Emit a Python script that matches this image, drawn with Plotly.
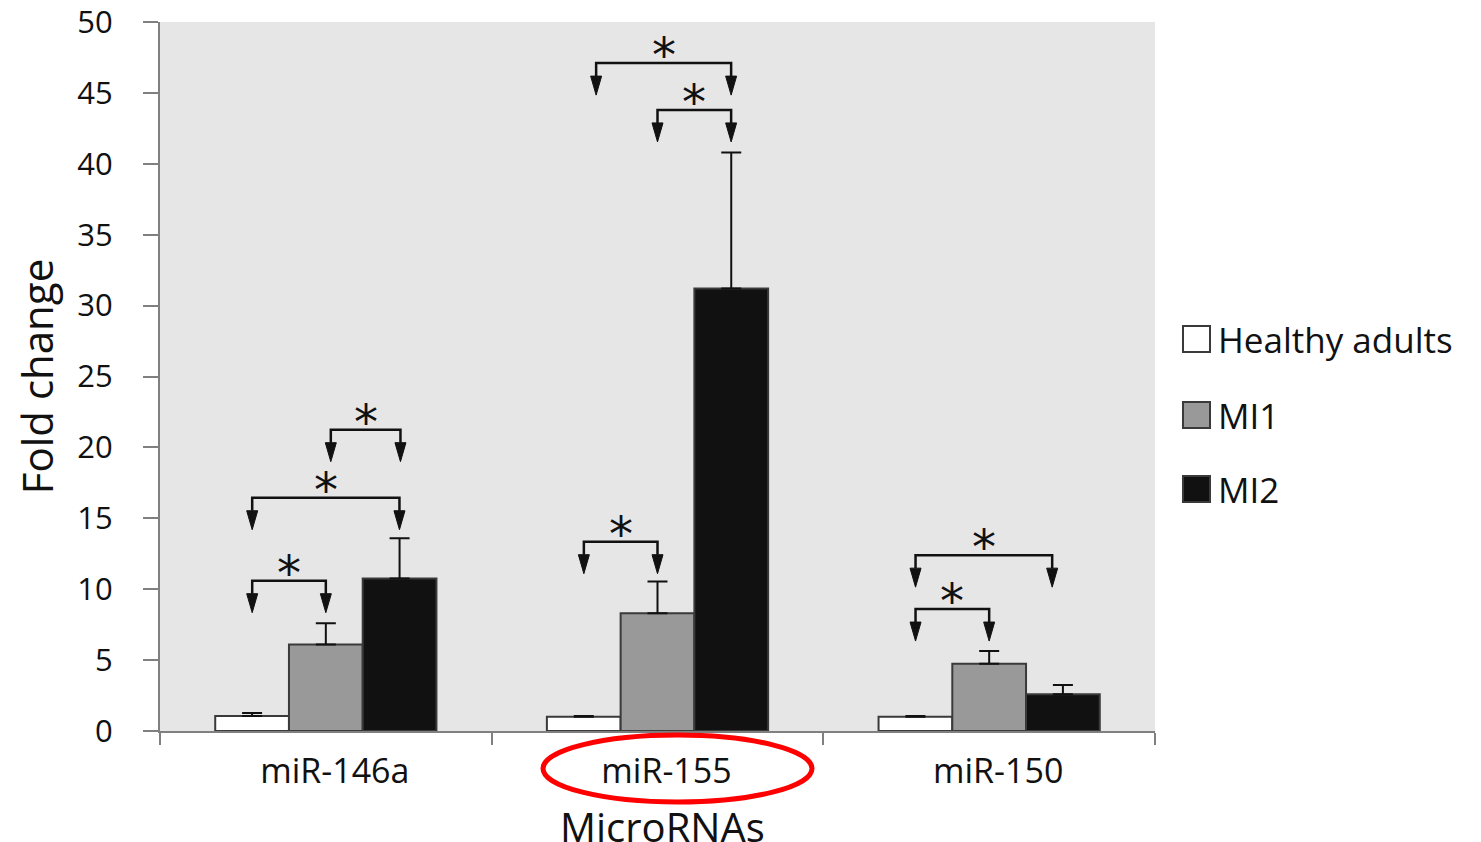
import plotly.graph_objects as go

categories = ["miR-146a", "miR-155", "miR-150"]
series_names = ["Healthy adults", "MI1", "MI2"]
healthy = [1.05, 1.0, 1.0]
mi1 = [6.1, 8.3, 4.75]
mi2 = [10.75, 31.2, 2.6]
healthy_err = [0.22, 0.05, 0.05]
mi1_err = [1.5, 2.25, 0.9]
mi2_err = [2.85, 9.6, 0.65]

# significance brackets: left x, right x (category units), bracket height (fold change)
bracket_x0 = [-0.222, -0.222, 0.015, 0.778, 0.815, 1.0, 1.778, 1.778]
bracket_x1 = [0.0, 0.222, 0.225, 1.0, 1.222, 1.222, 2.0, 2.19]
bracket_y = [10.6, 16.45, 21.25, 13.35, 47.1, 43.8, 8.6, 12.4]

fills = ["#ffffff", "#999999", "#111111"]
values = [healthy, mi1, mi2]
errs = [healthy_err, mi1_err, mi2_err]

FONT = "Open Sans"
OFF = 8  # page body margin
W, H = 1481 - OFF, 842 - OFF
PL, PR, PT, PB = 160, 1155, 22, 731   # plot area in page pixels
ML, MT = PL - OFF, PT - OFF
MR = W - (PR - OFF)
MB = H - (PB - OFF)
pw = PR - PL
ph = PB - PT
xu = 3.0 / pw      # x units per pixel
yu = 50.0 / ph     # y units per pixel


def px_x(p):
    return (p - PL) / pw


def px_y(p):
    return (PB - p) / ph


fig = go.Figure()
for name, col, v, e in zip(series_names, fills, values, errs):
    fig.add_trace(go.Bar(
        x=list(range(len(categories))), y=v, name=name,
        marker=dict(color=col, line=dict(color="#3a3a3a", width=2)),
        error_y=dict(type="data", array=e, arrayminus=[0] * len(e), symmetric=False,
                     color="#111111", thickness=2, width=10),
        showlegend=False,
    ))

shapes = []
annotations = []
stem = 13 * yu
head = 19 * yu
hw = 5.5 * xu
for x0, x1, yb in zip(bracket_x0, bracket_x1, bracket_y):
    ytip = yb - stem - head
    ybase = ytip + head
    shapes.append(dict(type="path", xref="x", yref="y",
                       path=f"M{x0},{ybase} L{x0},{yb} L{x1},{yb} L{x1},{ybase}",
                       line=dict(color="#111111", width=2.5)))
    for xx in (x0, x1):
        shapes.append(dict(type="path", xref="x", yref="y",
                           path=f"M{xx-hw},{ybase} L{xx+hw},{ybase} L{xx},{ytip} Z",
                           fillcolor="#111111", line=dict(color="#111111", width=1)))
    annotations.append(dict(x=(x0 + x1) / 2, y=yb, xref="x", yref="y", text="*",
                            showarrow=False, yanchor="bottom", yshift=-22,
                            font=dict(family="DejaVu Sans", size=48, color="#111111")))

# legend (drawn manually to match the large swatches)
leg_y = [339, 415, 489]
for name, col, cy in zip(series_names, fills, leg_y):
    shapes.append(dict(type="rect", xref="paper", yref="paper",
                       x0=px_x(1183), x1=px_x(1210), y0=px_y(cy + 13), y1=px_y(cy - 13),
                       fillcolor=col, line=dict(color="#3a3a3a", width=2)))
    annotations.append(dict(x=px_x(1216), y=px_y(cy), xref="paper", yref="paper",
                            text=name, showarrow=False, xanchor="left", yanchor="middle",
                            font=dict(family=FONT, size=35, color="#111111")))

# x-axis title
annotations.append(dict(x=px_x(662), y=px_y(826), xref="paper", yref="paper",
                        text="MicroRNAs", showarrow=False, xanchor="center", yanchor="middle",
                        font=dict(family=FONT, size=40, color="#111111")))

# red hand-drawn highlight around the miR-155 label
shapes.append(dict(type="circle", xref="paper", yref="paper",
                   x0=px_x(543), x1=px_x(812), y0=px_y(802), y1=px_y(735),
                   line=dict(color="#ff0000", width=5)))

fig.update_layout(
    width=W, height=H,
    margin=dict(l=ML, r=MR, t=MT, b=MB, autoexpand=False),
    paper_bgcolor="white", plot_bgcolor="#e6e6e6",
    barmode="group", bargap=0.333, bargroupgap=0,
    font=dict(family=FONT, color="#111111"),
    shapes=shapes, annotations=annotations,
    showlegend=False,
    xaxis=dict(range=[-0.5, 2.5], tickvals=[0, 1, 2], ticktext=categories,
               ticks="", showgrid=False, zeroline=False,
               showline=True, linecolor="#808080", linewidth=2,
               tickfont=dict(family=FONT, size=34, color="#111111"),
               ticklabelstandoff=9, ticklabelshift=9,
               minor=dict(tickvals=[-0.5, 0.5, 1.5, 2.5], ticks="outside", ticklen=12,
                          tickwidth=2, tickcolor="#808080", showgrid=False)),
    yaxis=dict(range=[0, 50], tickvals=[0, 5, 10, 15, 20, 25, 30, 35, 40, 45, 50],
               ticks="outside", ticklen=15, ticklabeloverflow="allow",
               tickwidth=2, tickcolor="#808080", showgrid=False, zeroline=False,
               showline=True, linecolor="#808080", linewidth=2,
               tickfont=dict(family=FONT, size=31, color="#111111"),
               ticklabelstandoff=24,
               title=dict(text="Fold change", font=dict(family=FONT, size=42, color="#111111"),
                          standoff=16)),
)

fig.write_html("out.html")
